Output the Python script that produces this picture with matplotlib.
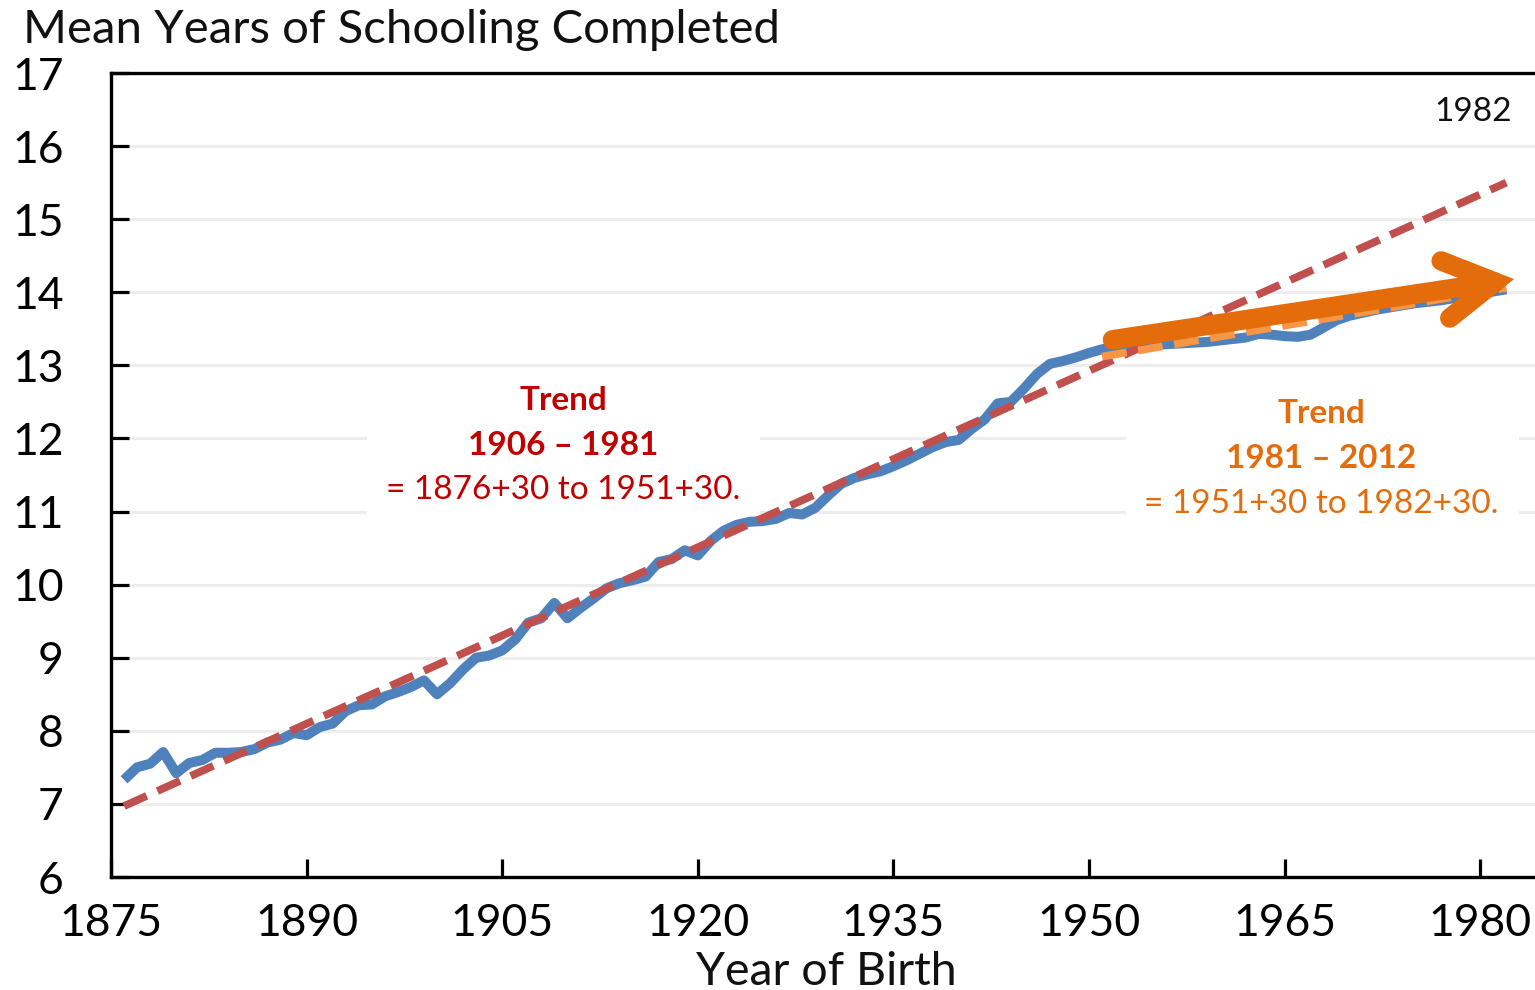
import matplotlib
matplotlib.use('Agg')
import matplotlib.pyplot as plt
from matplotlib.patches import Rectangle

plt.rcParams['font.family'] = ['Lato', 'DejaVu Sans']

# ---------------- data ----------------
years = list(range(1876, 1983))
schooling = [
    7.33, 7.50, 7.55, 7.71, 7.42, 7.56, 7.60, 7.70, 7.70, 7.71,   # 1876-1885
    7.75, 7.84, 7.88, 7.97, 7.94, 8.05, 8.10, 8.27, 8.35, 8.36,   # 1886-1895
    8.47, 8.53, 8.60, 8.69, 8.50, 8.65, 8.84, 9.00, 9.03, 9.10,   # 1896-1905
    9.25, 9.48, 9.54, 9.75, 9.54, 9.68, 9.81, 9.95, 10.02, 10.06, # 1906-1915
    10.11, 10.31, 10.35, 10.47, 10.40, 10.60, 10.74, 10.82, 10.86, 10.87,  # 1916-1925
    10.90, 10.98, 10.96, 11.05, 11.22, 11.38, 11.46, 11.51, 11.55, 11.62,  # 1926-1935
    11.70, 11.79, 11.88, 11.95, 11.98, 12.13, 12.26, 12.48, 12.50, 12.68,  # 1936-1945
    12.88, 13.02, 13.06, 13.11, 13.17, 13.22, 13.25, 13.26, 13.27, 13.28,  # 1946-1955
    13.29, 13.30, 13.31, 13.32, 13.34, 13.36, 13.38, 13.43, 13.42, 13.40,  # 1956-1965
    13.39, 13.42, 13.52, 13.62, 13.68, 13.72, 13.76, 13.79, 13.82, 13.85,  # 1966-1975
    13.87, 13.89, 13.92, 13.95, 13.98, 14.01, 14.04,                      # 1976-1982
]
trend1_years = [1876, 1982]
trend1_values = [6.97, 15.50]
trend2_years = [1951, 1982]
trend2_values = [13.12, 14.06]
arrow_start = (1951.8, 13.35)
arrow_end = (1982.6, 14.18)
x_ticks = [1875, 1890, 1905, 1920, 1935, 1950, 1965, 1980]
y_ticks = list(range(6, 18))

title = "Mean Years of Schooling Completed"
xlabel = "Year of Birth"
red_lines = ["Trend", "1906 \u2013 1981", "= 1876+30 to 1951+30."]
orange_lines = ["Trend", "1981 \u2013 2012", "= 1951+30 to 1982+30."]
corner_label = "1982"

# ---------------- layout ----------------
W, H = 1535, 990
fig = plt.figure(figsize=(W / 100, H / 100), dpi=100)


def fx(px):
    return px / W


def fy(py):
    return 1 - py / H


ax = fig.add_axes([fx(111), fy(877), fx(1535) - fx(111), fy(73) - fy(877)])
ax.set_xlim(1875, 1875 + (1535 - 111) / 13.04)
ax.set_ylim(6, 17)
ax.set_xticks(x_ticks)
ax.set_yticks(y_ticks)
ax.yaxis.grid(True, color='#EDEDED', lw=2.2)
ax.set_axisbelow(True)
for s in ['left', 'top', 'bottom']:
    ax.spines[s].set_linewidth(2.4)
    ax.spines[s].set_color('black')
ax.spines['right'].set_visible(False)
ax.tick_params(axis='both', direction='in', length=13, width=2.3,
               labelsize=32, colors='black')
ax.tick_params(axis='x', pad=19)
ax.tick_params(axis='y', pad=34)

# white boxes behind the annotations (they hide the gridlines)
for (x0, y0, x1, y1) in [(367, 368, 760, 515), (1126, 380, 1519, 515)]:
    r = Rectangle((fx(x0), fy(y1)), fx(x1) - fx(x0), fy(y0) - fy(y1),
                  transform=fig.transFigure, facecolor='white',
                  edgecolor='none', zorder=1, clip_on=False)
    ax.add_patch(r)

ax.plot(years, schooling, color='#4F81BD', lw=7.2, solid_joinstyle='round',
        solid_capstyle='butt', zorder=3)
ax.plot(trend1_years, trend1_values, color='#C0504D', lw=5.6,
        ls=(0, (3.2, 1.5)), zorder=4)
ax.plot(trend2_years, trend2_values, color='#F79646', lw=5.6,
        ls=(0, (3.2, 1.5)), zorder=5)
ax.annotate('', xy=arrow_end, xytext=arrow_start,
            arrowprops=dict(arrowstyle='->,head_length=0.9,head_width=0.52',
                            lw=14, color='#E46C0A', shrinkA=0, shrinkB=0,
                            mutation_scale=40, capstyle='round',
                            joinstyle='miter'),
            zorder=6)

# texts
fig.text(fx(23), fy(43), title, fontsize=34, ha='left', va='baseline',
         color='#111111')
fig.text(fx(826), fy(985), xlabel, fontsize=33.5, ha='center', va='baseline',
         color='#111111')
fig.text(fx(1512), fy(121), corner_label, fontsize=24, ha='right',
         va='baseline', color='#111111')

red = '#C00000'
orange = '#E46C0A'
for i, (t, base) in enumerate(zip(red_lines, [410, 455, 499])):
    fig.text(fx(563), fy(base), t, fontsize=24, ha='center', va='baseline',
             color=red, fontweight='bold' if i < 2 else 'normal')
for i, (t, base) in enumerate(zip(orange_lines, [423, 468, 513])):
    fig.text(fx(1321), fy(base), t, fontsize=24, ha='center', va='baseline',
             color=orange, fontweight='bold' if i < 2 else 'normal')

fig.savefig('out.png', dpi=100)
